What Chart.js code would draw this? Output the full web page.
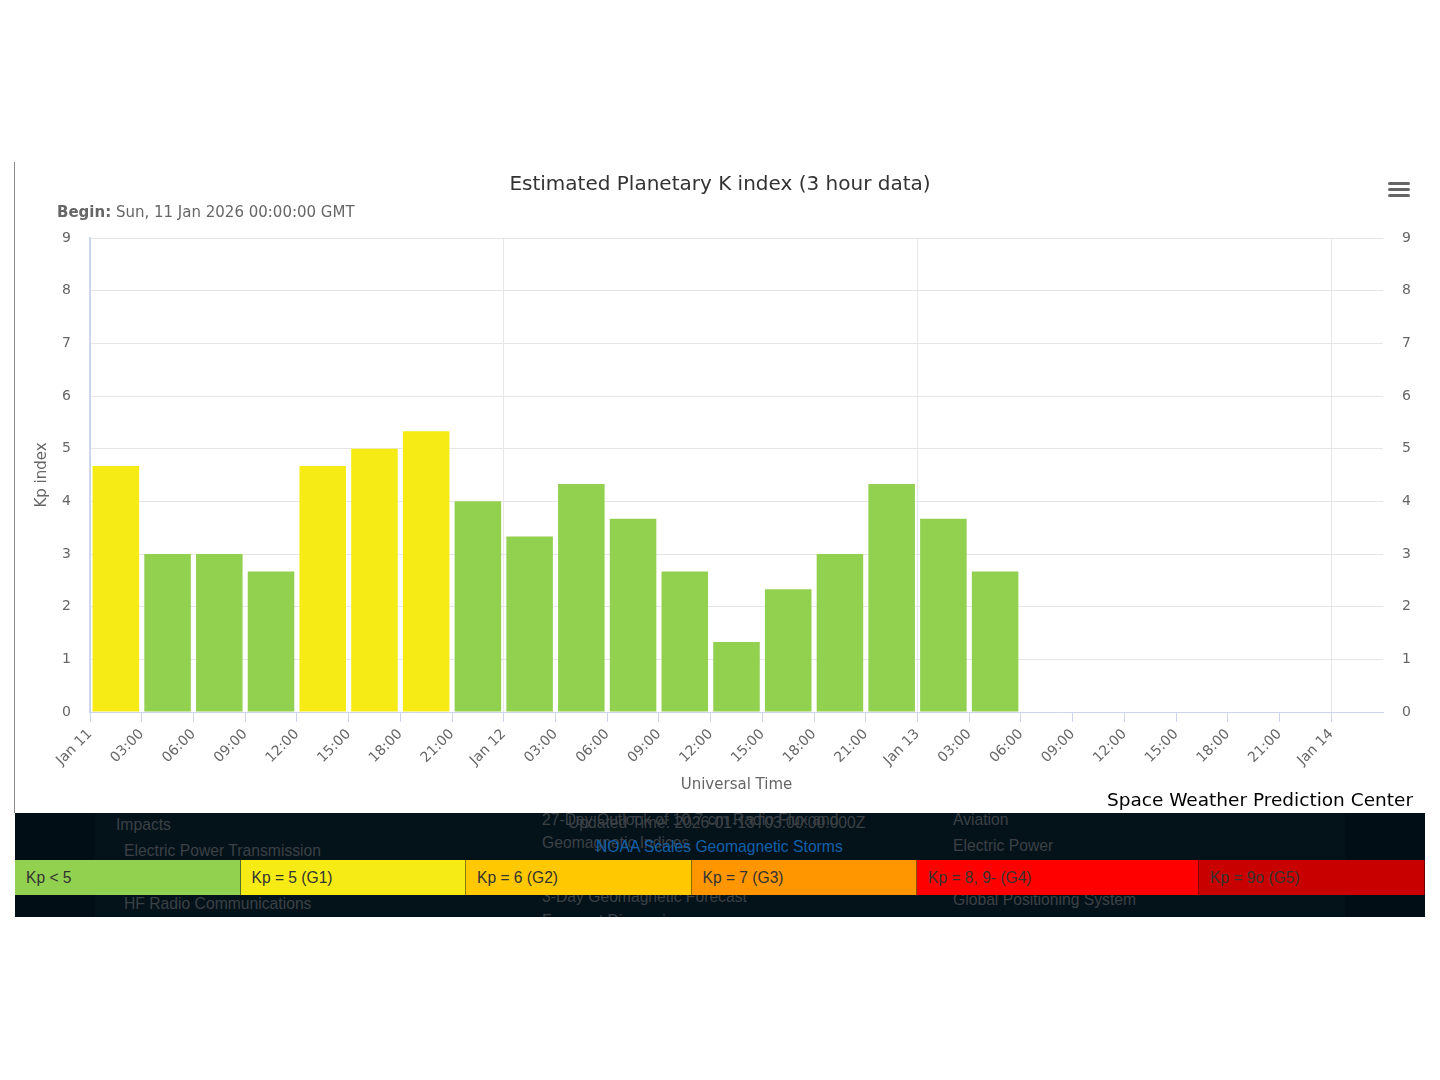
<!DOCTYPE html>
<html>
<head>
<meta charset="utf-8">
<title>Estimated Planetary K index</title>
<script src="https://cdn.jsdelivr.net/npm/chart.js@4.4.1/dist/chart.umd.min.js"></script>
<style>
  body { margin: 0; background: #fff; width: 1440px; height: 1080px; position: relative; overflow: hidden; font-family: 'DejaVu Sans', sans-serif; }
  #frame { position: absolute; left: 14px; top: 162px; width: 1px; height: 651px; background: #8a8a8a; }
  #kpChart { position: absolute; left: 15px; top: 162px; }
  #title { position: absolute; left: 0; width: 1440px; top: 170px; text-align: center; font-size: 20px; line-height: 26px; color: #333; }
  #subtitle { position: absolute; left: 57px; top: 203px; font-size: 15px; line-height: 18px; color: #666; }
  #menu { position: absolute; left: 1388px; top: 182px; width: 22px; }
  #menu div { height: 3px; background: #666; border-radius: 2px; margin-bottom: 3px; }
  #credits { position: absolute; right: 27px; top: 788px; font-size: 18.5px; line-height: 24px; color: #000; }
  #band { position: absolute; left: 15px; top: 813px; width: 1410px; height: 104px; background: #020e16; overflow: hidden; font-family: 'Liberation Sans', Arial, sans-serif; }
  #panel { position: absolute; left: 80px; top: 0; width: 1250px; height: 104px; background: #04121a; }
  .dim { position: absolute; font-size: 15.7px; line-height: 18px; color: #3c4146; white-space: nowrap; }
  .link { color: #1060aa; }
  #scale { position: absolute; left: 0; top: 47px; height: 35px; width: 1410px; display: flex; }
  #scale div { box-sizing: border-box; height: 35px; line-height: 35px; padding-left: 11px; font-size: 15.6px; color: #333; border-right: 1px solid rgba(0,0,0,0.45); }
</style>
</head>
<body>
<div id="frame"></div>
<canvas id="kpChart" width="1410" height="650"></canvas>
<div id="title">Estimated Planetary K index (3 hour data)</div>
<div id="subtitle"><b>Begin:</b> Sun, 11 Jan 2026 00:00:00 GMT</div>
<div id="menu"><div></div><div></div><div></div></div>
<div id="credits">Space Weather Prediction Center</div>
<div id="band">
  <div id="panel"></div>
  <span class="dim" style="left:101px;top:3px">Impacts</span>
  <span class="dim" style="left:109px;top:29px">Electric Power Transmission</span>
  <span class="dim" style="left:109px;top:82px">HF Radio Communications</span>
  <span class="dim" style="left:527px;top:-2px">27-Day Outlook of 10.7 cm Radio Flux and</span>
  <span class="dim" style="left:553px;top:1px">Updated Time: 2026-01-13T03:00:00.000Z</span>
  <span class="dim" style="left:527px;top:21px">Geomagnetic Indices</span>
  <span class="dim link" style="left:581px;top:25px">NOAA Scales Geomagnetic Storms</span>
  <span class="dim" style="left:527px;top:75px">3-Day Geomagnetic Forecast</span>
  <span class="dim" style="left:527px;top:99px">Forecast Discussion</span>
  <span class="dim" style="left:938px;top:-2px">Aviation</span>
  <span class="dim" style="left:938px;top:24px">Electric Power</span>
  <span class="dim" style="left:938px;top:78px">Global Positioning System</span>
  <div id="scale"></div>
</div>
<script>
// 3-hour Kp values, Jan 11 00:00 UT onwards
var startHours = [0, 3, 6, 9, 12, 15, 18, 21, 24, 27, 30, 33, 36, 39, 42, 45, 48, 51];
var kpValues = [4.67, 3.00, 3.00, 2.67, 4.67, 5.00, 5.33, 4.00, 3.33, 4.33, 3.67, 2.67, 1.33, 2.33, 3.00, 4.33, 3.67, 2.67];

var tickLabels = ['Jan 11', '03:00', '06:00', '09:00', '12:00', '15:00', '18:00', '21:00',
  'Jan 12', '03:00', '06:00', '09:00', '12:00', '15:00', '18:00', '21:00',
  'Jan 13', '03:00', '06:00', '09:00', '12:00', '15:00', '18:00', '21:00', 'Jan 14'];

var scaleLabels = ['Kp < 5', 'Kp = 5 (G1)', 'Kp = 6 (G2)', 'Kp = 7 (G3)', 'Kp = 8, 9- (G4)', 'Kp = 9o (G5)'];
var scaleColors = ['#92D050', '#F6EB14', '#FFC800', '#FF9600', '#FF0000', '#C80000'];
var scaleWidths = [225.5, 225.5, 225.5, 225.5, 282, 226];

function kpColor(kp) {
  if (kp < 4.5) return scaleColors[0];
  if (kp < 5.5) return scaleColors[1];
  if (kp < 6.5) return scaleColors[2];
  if (kp < 7.5) return scaleColors[3];
  if (kp < 8.83) return scaleColors[4];
  return scaleColors[5];
}

var scaleBox = document.getElementById('scale');
scaleLabels.forEach(function (txt, i) {
  var d = document.createElement('div');
  d.textContent = txt;
  d.style.background = scaleColors[i];
  d.style.width = scaleWidths[i] + 'px';
  scaleBox.appendChild(d);
});

Chart.defaults.font.family = "'DejaVu Sans', sans-serif";

new Chart(document.getElementById('kpChart'), {
  type: 'bar',
  data: {
    datasets: [{
      label: 'Kp',
      data: startHours.map(function (h, i) { return { x: h + 1.5, y: kpValues[i] }; }),
      backgroundColor: kpValues.map(kpColor),
      borderWidth: 0,
      barPercentage: 0.9,
      categoryPercentage: 1,
      yAxisID: 'y'
    }]
  },
  options: {
    responsive: false,
    animation: false,
    devicePixelRatio: 1,
    layout: { padding: { top: 76, left: 0, right: 0, bottom: 0 } },
    plugins: { legend: { display: false }, tooltip: { enabled: false } },
    scales: {
      x: {
        type: 'linear',
        min: 0,
        max: 75,
        offset: false,
        afterBuildTicks: function (s) {
          s.ticks = tickLabels.map(function (t, i) { return { value: i * 3 }; });
        },
        afterFit: function (s) { s.height = 100; },
        ticks: {
          autoSkip: false,
          maxRotation: 45,
          minRotation: 45,
          padding: 4,
          color: '#666',
          font: { size: 14 },
          callback: function (v) { return tickLabels[Math.round(v / 3)]; }
        },
        grid: {
          offset: false,
          drawTicks: true,
          tickLength: 10,
          tickColor: '#ccd6eb',
          color: function (c) {
            return (c.tick && c.tick.value > 0 && c.tick.value % 24 === 0) ? '#e6e6e6' : 'rgba(0,0,0,0)';
          }
        },
        border: { color: '#ccd6eb', width: 1 },
        title: { display: true, text: 'Universal Time', color: '#666', font: { size: 15 }, padding: { top: 0, bottom: 18 } }
      },
      y: {
        position: 'left',
        min: 0,
        max: 9,
        afterFit: function (s) { s.width = 75; },
        ticks: { stepSize: 1, padding: 19, color: '#666', font: { size: 14 } },
        grid: { color: '#e6e6e6', drawTicks: false },
        border: { color: '#ccd6eb', width: 2 },
        title: { display: true, text: 'Kp index', color: '#666', font: { size: 15 }, padding: { top: 18, bottom: 0 } }
      },
      y2: {
        position: 'right',
        min: 0,
        max: 9,
        afterFit: function (s) { s.width = 42; },
        ticks: { stepSize: 1, padding: 19, color: '#666', font: { size: 14 } },
        grid: { display: false, drawTicks: false },
        border: { display: false }
      }
    }
  }
});
</script>
</body>
</html>
